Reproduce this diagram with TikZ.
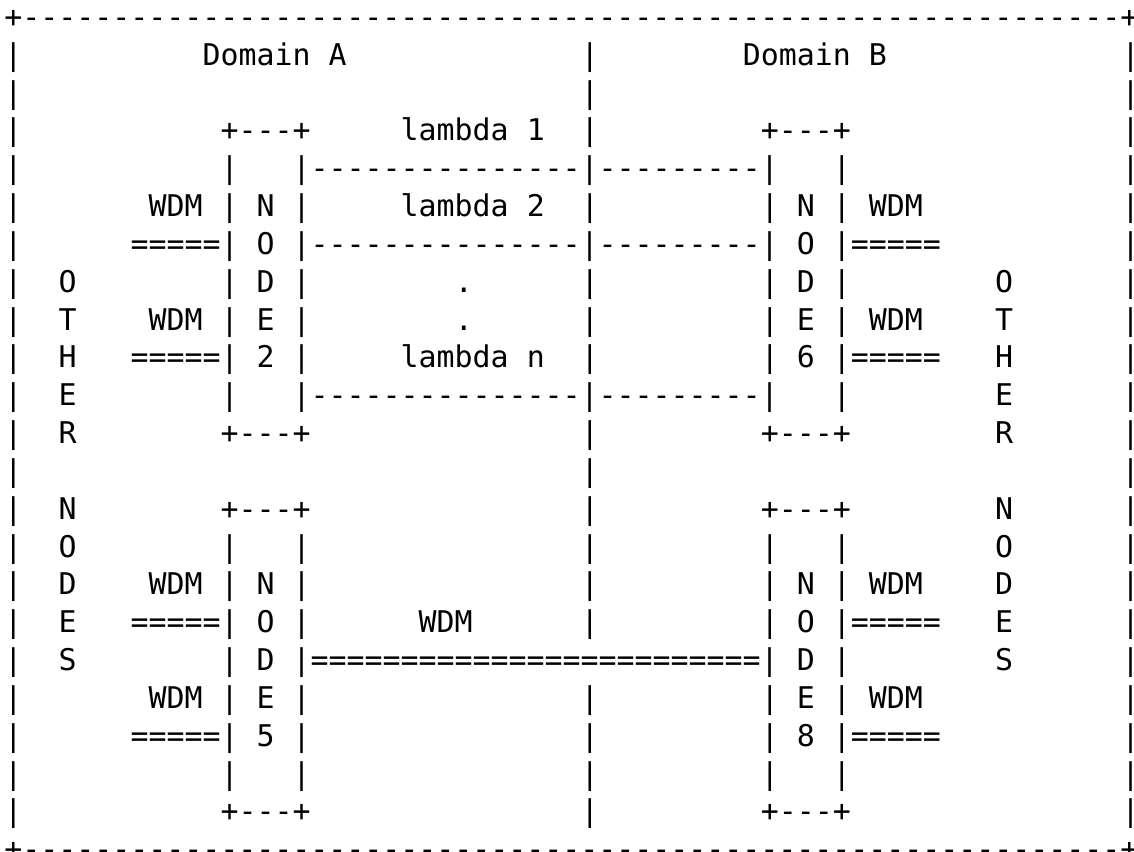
\documentclass[tikz,border=0pt]{standalone}
\usepackage{fontspec}
\setmonofont{DejaVu Sans Mono}
\newcommand\myrep[2]{\foreach\k in {1,...,#1}{#2}}
\def\cw{18.01}
\def\lh{37.83}
\tikzset{txt/.style={anchor=base west,inner sep=0pt,outer sep=0pt,text=black,
  font=\ttfamily\fontsize{29.9pt}{35pt}\selectfont}}
\newcommand\T[3]{\node[txt] (r#2c#1) at ({#1*\cw-\cw/2},{-27.4-#2*\lh}) {#3};}
% right border bar: zero-width box, ink stays at its column
\newcommand\R[1]{\T{62}{#1}{\makebox[0pt][l]{|}}}
\begin{document}
\begin{tikzpicture}[x=1pt,y=1pt]
\useasboundingbox (-13.5,0) rectangle (1120.5,-851);
% row 0
\T{0}{0}{+\myrep{61}{-}\makebox[0pt][l]{+}}
% row 1
\T{0}{1}{|}\T{11}{1}{Domain}\T{18}{1}{A}\T{32}{1}{|}\T{41}{1}{Domain}\T{48}{1}{B}\R{1}
% row 2
\T{0}{2}{|}\T{32}{2}{|}\R{2}
% row 3
\T{0}{3}{|}\T{12}{3}{+---+}\T{22}{3}{lambda}\T{29}{3}{1}\T{32}{3}{|}\T{42}{3}{+---+}\R{3}
% row 4
\T{0}{4}{|}\T{12}{4}{|}\T{16}{4}{|\myrep{15}{-}|\myrep{9}{-}|}\T{46}{4}{|}\R{4}
% row 5
\T{0}{5}{|}\T{8}{5}{WDM}\T{12}{5}{|}\T{14}{5}{N}\T{16}{5}{|}\T{22}{5}{lambda}\T{29}{5}{2}\T{32}{5}{|}
\T{42}{5}{|}\T{44}{5}{N}\T{46}{5}{|}\T{48}{5}{WDM}\R{5}
% row 6
\T{0}{6}{|}\T{7}{6}{=====|}\T{14}{6}{O}\T{16}{6}{|\myrep{15}{-}|\myrep{9}{-}|}\T{44}{6}{O}\T{46}{6}{|=====}\R{6}
% row 7
\T{0}{7}{|}\T{3}{7}{O}\T{12}{7}{|}\T{14}{7}{D}\T{16}{7}{|}\T{25}{7}{.}\T{32}{7}{|}
\T{42}{7}{|}\T{44}{7}{D}\T{46}{7}{|}\T{55}{7}{O}\R{7}
% row 8
\T{0}{8}{|}\T{3}{8}{T}\T{8}{8}{WDM}\T{12}{8}{|}\T{14}{8}{E}\T{16}{8}{|}\T{25}{8}{.}\T{32}{8}{|}
\T{42}{8}{|}\T{44}{8}{E}\T{46}{8}{|}\T{48}{8}{WDM}\T{55}{8}{T}\R{8}
% row 9
\T{0}{9}{|}\T{3}{9}{H}\T{7}{9}{=====|}\T{14}{9}{2}\T{16}{9}{|}\T{22}{9}{lambda}\T{29}{9}{n}\T{32}{9}{|}
\T{42}{9}{|}\T{44}{9}{6}\T{46}{9}{|=====}\T{55}{9}{H}\R{9}
% row 10
\T{0}{10}{|}\T{3}{10}{E}\T{12}{10}{|}\T{16}{10}{|\myrep{15}{-}|\myrep{9}{-}|}\T{46}{10}{|}\T{55}{10}{E}\R{10}
% row 11
\T{0}{11}{|}\T{3}{11}{R}\T{12}{11}{+---+}\T{32}{11}{|}\T{42}{11}{+---+}\T{55}{11}{R}\R{11}
% row 12
\T{0}{12}{|}\T{32}{12}{|}\R{12}
% row 13
\T{0}{13}{|}\T{3}{13}{N}\T{12}{13}{+---+}\T{32}{13}{|}\T{42}{13}{+---+}\T{55}{13}{N}\R{13}
% row 14
\T{0}{14}{|}\T{3}{14}{O}\T{12}{14}{|}\T{16}{14}{|}\T{32}{14}{|}\T{42}{14}{|}\T{46}{14}{|}\T{55}{14}{O}\R{14}
% row 15
\T{0}{15}{|}\T{3}{15}{D}\T{8}{15}{WDM}\T{12}{15}{|}\T{14}{15}{N}\T{16}{15}{|}\T{32}{15}{|}
\T{42}{15}{|}\T{44}{15}{N}\T{46}{15}{|}\T{48}{15}{WDM}\T{55}{15}{D}\R{15}
% row 16
\T{0}{16}{|}\T{3}{16}{E}\T{7}{16}{=====|}\T{14}{16}{O}\T{16}{16}{|}\T{23}{16}{WDM}\T{32}{16}{|}
\T{42}{16}{|}\T{44}{16}{O}\T{46}{16}{|=====}\T{55}{16}{E}\R{16}
% row 17
\T{0}{17}{|}\T{3}{17}{S}\T{12}{17}{|}\T{14}{17}{D}\T{16}{17}{|\myrep{25}{=}|}\T{44}{17}{D}\T{46}{17}{|}\T{55}{17}{S}\R{17}
% row 18
\T{0}{18}{|}\T{8}{18}{WDM}\T{12}{18}{|}\T{14}{18}{E}\T{16}{18}{|}\T{32}{18}{|}
\T{42}{18}{|}\T{44}{18}{E}\T{46}{18}{|}\T{48}{18}{WDM}\R{18}
% row 19
\T{0}{19}{|}\T{7}{19}{=====|}\T{14}{19}{5}\T{16}{19}{|}\T{32}{19}{|}
\T{42}{19}{|}\T{44}{19}{8}\T{46}{19}{|=====}\R{19}
% row 20
\T{0}{20}{|}\T{12}{20}{|}\T{16}{20}{|}\T{32}{20}{|}\T{42}{20}{|}\T{46}{20}{|}\R{20}
% row 21
\T{0}{21}{|}\T{12}{21}{+---+}\T{32}{21}{|}\T{42}{21}{+---+}\R{21}
% row 22
\T{0}{22}{+\myrep{61}{-}\makebox[0pt][l]{+}}
\end{tikzpicture}
\end{document}
